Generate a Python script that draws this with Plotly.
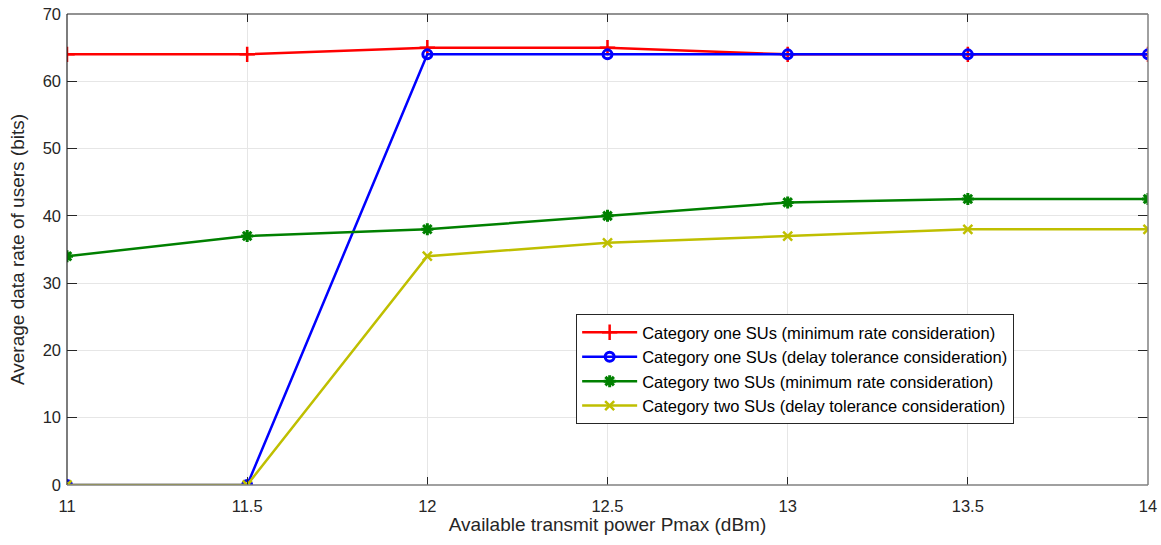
import plotly.graph_objects as go

pmax = [11, 11.5, 12, 12.5, 13, 13.5, 14]
cat1_minrate = [64, 64, 65, 65, 64, 64, 64]
cat1_delay = [0, 0, 64, 64, 64, 64, 64]
cat2_minrate = [34, 37, 38, 40, 42, 42.5, 42.5]
cat2_delay = [0, 0, 34, 36, 37, 38, 38]

names = [
    "Category one SUs (minimum rate consideration)",
    "Category one SUs (delay tolerance consideration)",
    "Category two SUs (minimum rate consideration)",
    "Category two SUs (delay tolerance consideration)",
]

fig = go.Figure()
fig.add_trace(go.Scatter(x=pmax, y=cat1_minrate, name=names[0], mode="lines+markers",
                         line=dict(color="#ff0000", width=2.5),
                         marker=dict(symbol="cross-thin", size=11, line=dict(color="#ff0000", width=2.5))))
fig.add_trace(go.Scatter(x=pmax, y=cat1_delay, name=names[1], mode="lines+markers",
                         line=dict(color="#0000ff", width=2.5),
                         marker=dict(symbol="circle-open", size=9, color="#0000ff", line=dict(color="#0000ff", width=3))))
fig.add_trace(go.Scatter(x=pmax, y=cat2_minrate, name=names[2], mode="lines+markers",
                         line=dict(color="#008000", width=2.5),
                         marker=dict(symbol="asterisk-open", size=10, line=dict(color="#008000", width=3))))
fig.add_trace(go.Scatter(x=pmax, y=cat2_delay, name=names[3], mode="lines+markers",
                         line=dict(color="#bfbf00", width=2.5),
                         marker=dict(symbol="x-thin-open", size=9, line=dict(color="#bfbf00", width=2.5))))

font = "Liberation Sans, Arial, sans-serif"
fig.update_layout(
    width=1161, height=545,
    margin=dict(l=67, r=13, t=14, b=60),
    paper_bgcolor="white", plot_bgcolor="white",
    font=dict(family=font, size=16, color="#262626"),
    showlegend=True,
    legend=dict(x=0.471, y=0.363, xanchor="left", yanchor="top",
                bgcolor="white", bordercolor="#262626", borderwidth=1,
                font=dict(size=16.5, color="#000000"), tracegroupgap=0,
                itemwidth=55),
    xaxis=dict(range=[11, 14], tickvals=[11, 11.5, 12, 12.5, 13, 13.5, 14],
               ticktext=["11", "11.5", "12", "12.5", "13", "13.5", "14"],
               showgrid=True, gridcolor="#e6e6e6", gridwidth=1,
               zeroline=False, showline=False, automargin=False, mirror="ticks",
               ticks="inside", ticklen=8, tickcolor="#262626",
               ticklabelstandoff=9,
               tickfont=dict(size=16.5, color="#262626"),
               title=dict(text="Available transmit power Pmax (dBm)", font=dict(size=19, color="#262626"), standoff=4)),
    yaxis=dict(range=[0, 70], tickvals=[0, 10, 20, 30, 40, 50, 60, 70],
               showgrid=True, gridcolor="#e6e6e6", gridwidth=1,
               zeroline=False, showline=False, automargin=False, mirror="ticks",
               ticks="inside", ticklen=10, tickcolor="#262626",
               ticklabelstandoff=5,
               tickfont=dict(size=16.5, color="#262626"),
               title=dict(text="Average data rate of users (bits)", font=dict(size=19, color="#262626"), standoff=12)),
)

# axes box
fig.add_shape(type="line", xref="paper", yref="paper", x0=0, x1=0, y0=0, y1=1, line=dict(color="#262626", width=1.2))
fig.add_shape(type="line", xref="paper", yref="paper", x0=0, x1=1, y0=1, y1=1, line=dict(color="#262626", width=1.2))
fig.add_shape(type="line", xref="paper", yref="paper", x0=1, x1=1, y0=0, y1=1, line=dict(color="#808080", width=1.5))
fig.add_shape(type="line", xref="paper", yref="paper", x0=0, x1=1, y0=0, y1=0, line=dict(color="#808080", width=1.5))

fig.write_html("out.html")
